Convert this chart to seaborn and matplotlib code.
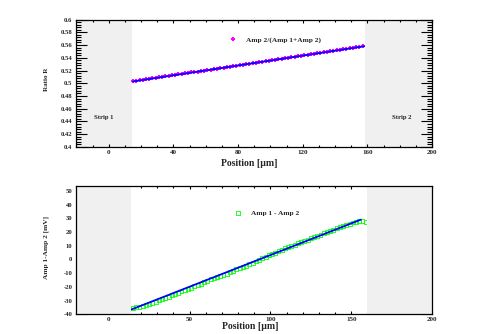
import numpy as np
import pandas as pd
import matplotlib
matplotlib.use('Agg')
import matplotlib.pyplot as plt
import seaborn as sns
from matplotlib.ticker import MultipleLocator, FormatStrFormatter

# Ratio R vs position (top panel)
pos_r = [15, 17, 19, 21, 23, 25, 27, 29, 31, 33, 35, 37, 39, 41, 43, 45, 47, 49,
         51, 53, 55, 57, 59, 61, 63, 65, 67, 69, 71, 73, 75, 77, 79, 81, 83, 85,
         87, 89, 91, 93, 95, 97, 99, 101, 103, 105, 107, 109, 111, 113, 115, 117,
         119, 121, 123, 125, 127, 129, 131, 133, 135, 137, 139, 141, 143, 145,
         147, 149, 151, 153, 155, 157]
ratio = [0.5030, 0.5038, 0.5045, 0.5053, 0.5061, 0.5069, 0.5076, 0.5084, 0.5092, 0.5099,
         0.5107, 0.5115, 0.5122, 0.5130, 0.5138, 0.5146, 0.5153, 0.5161, 0.5169, 0.5176,
         0.5184, 0.5192, 0.5199, 0.5207, 0.5215, 0.5223, 0.5230, 0.5238, 0.5246, 0.5253,
         0.5261, 0.5269, 0.5276, 0.5284, 0.5292, 0.5300, 0.5307, 0.5315, 0.5323, 0.5330,
         0.5338, 0.5346, 0.5353, 0.5361, 0.5369, 0.5377, 0.5384, 0.5392, 0.5400, 0.5407,
         0.5415, 0.5423, 0.5430, 0.5438, 0.5446, 0.5454, 0.5461, 0.5469, 0.5477, 0.5484,
         0.5492, 0.5500, 0.5507, 0.5515, 0.5523, 0.5531, 0.5538, 0.5546, 0.5554, 0.5561,
         0.5569, 0.5577]
fit_r_x = [15, 158]
fit_r_y = [0.5028, 0.5580]

# Amp 1 - Amp 2 vs position (bottom panel)
pos_d = [15, 17, 19, 21, 23, 25, 27, 29, 31, 33, 35, 37, 39, 41, 43, 45, 47, 49,
         51, 53, 55, 57, 59, 61, 63, 65, 67, 69, 71, 73, 75, 77, 79, 81, 83, 85,
         87, 89, 91, 93, 95, 97, 99, 101, 103, 105, 107, 109, 111, 113, 115, 117,
         119, 121, 123, 125, 127, 129, 131, 133, 135, 137, 139, 141, 143, 145,
         147, 149, 151, 153, 155, 157, 159, 161]
diff = [-35.3, -35.0, -34.6, -34.0, -33.4, -32.6, -31.7, -30.8, -29.9, -29.0,
        -28.0, -27.1, -26.2, -25.3, -24.3, -23.4, -22.5, -21.5, -20.6, -19.7,
        -18.8, -17.8, -16.8, -15.4, -14.5, -13.9, -13.1, -12.2, -11.2, -10.3,
        -9.3, -8.3, -7.3, -6.4, -5.5, -4.6, -3.6, -2.6, -1.5, -0.4,
        1.0, 2.0, 3.0, 4.0, 5.0, 6.1, 7.1, 8.0, 9.0, 9.9,
        10.8, 11.7, 12.6, 13.5, 14.4, 15.4, 16.3, 17.2, 18.1, 19.0,
        19.9, 20.8, 21.7, 22.6, 23.5, 24.4, 25.3, 26.1, 26.9, 27.5,
        27.8, 28.0, 27.3, 23.0]
fit_d_x = [14, 156]
fit_d_y = [-36.5, 29.0]

sns.set_style('ticks')
plt.rcParams['font.family'] = ['Liberation Serif', 'DejaVu Serif']
plt.rcParams['font.weight'] = 'bold'
plt.rcParams['axes.unicode_minus'] = False

fig = plt.figure(figsize=(4.85, 3.34), dpi=100)
ax1 = fig.add_axes([0.1577, 0.5599, 0.7330, 0.3817])
ax2 = fig.add_axes([0.1577, 0.0590, 0.7330, 0.3841])

shade = '#f0f0f0'

# top panel
ax1.axvspan(-20, 14.6, color=shade, lw=0, zorder=0)
ax1.axvspan(158.8, 200, color=shade, lw=0, zorder=0)
sns.scatterplot(x=pos_r, y=ratio, ax=ax1, marker='P', s=7, color='#ff00ff',
                linewidth=0, label='Amp 2/(Amp 1+Amp 2)', zorder=2)
sns.lineplot(x=fit_r_x, y=fit_r_y, ax=ax1, color='#0000ff', linewidth=1.3,
             legend=False, zorder=3)
ax1.text(-3.3, 0.447, 'Strip 1', fontsize=4.8, fontweight='bold', ha='center', va='center')
ax1.text(181, 0.447, 'Strip 2', fontsize=4.8, fontweight='bold', ha='center', va='center')
ax1.set_xlim(-20, 200)
ax1.set_ylim(0.4, 0.6)
ax1.xaxis.set_major_locator(MultipleLocator(40))
ax1.xaxis.set_minor_locator(MultipleLocator(10))
ax1.yaxis.set_major_locator(MultipleLocator(0.02))
ax1.yaxis.set_minor_locator(MultipleLocator(0.004))
ax1.yaxis.set_major_formatter(FormatStrFormatter('%g'))
ax1.set_xlabel('Position [µm]', fontsize=7, fontweight='bold')
ax1.set_ylabel('Ratio R', fontsize=5, fontweight='bold')
ax1.xaxis.set_label_coords(0.486, -0.098)
ax1.yaxis.set_label_coords(-0.077, 0.53)
ax1.legend(frameon=False, loc='center left', bbox_to_anchor=(0.43, 0.845),
           fontsize=5.3, handlelength=1, handletextpad=1.2, borderpad=0,
           borderaxespad=0, markerscale=1.0)

# bottom panel
ax2.axvspan(-20, 13.8, color=shade, lw=0, zorder=4)
ax2.axvspan(159.6, 200, color=shade, lw=0, zorder=4)
sns.scatterplot(x=pos_d, y=diff, ax=ax2, marker='s', s=8, facecolor='none',
                edgecolor='#00ff00', linewidth=0.6, label='Amp 1 - Amp 2', zorder=2)
sns.lineplot(x=fit_d_x, y=fit_d_y, ax=ax2, color='#0000ff', linewidth=1.3,
             legend=False, zorder=3)
ax2.set_xlim(-20, 200)
ax2.set_ylim(-40, 53.5)
ax2.xaxis.set_major_locator(MultipleLocator(50))
ax2.xaxis.set_minor_locator(MultipleLocator(10))
ax2.yaxis.set_major_locator(MultipleLocator(10))
ax2.yaxis.set_minor_locator(MultipleLocator(2))
ax2.set_xlabel('Position [µm]', fontsize=7, fontweight='bold')
ax2.set_ylabel('Amp 1-Amp 2 [mV]', fontsize=5.3, fontweight='bold')
ax2.xaxis.set_label_coords(0.489, -0.062)
ax2.yaxis.set_label_coords(-0.077, 0.52)
ax2.legend(frameon=False, loc='center left', bbox_to_anchor=(0.445, 0.79),
           fontsize=5.3, handlelength=1, handletextpad=1.2, borderpad=0,
           borderaxespad=0)

for ax in (ax1, ax2):
    for sp in ax.spines.values():
        sp.set_visible(True)
        sp.set_linewidth(0.9)
        sp.set_color('black')
        sp.set_zorder(5)
    ax.tick_params(which='both', direction='in', top=True, right=True, color='black',
                   width=0.8)
    ax.tick_params(axis='y', which='major', length=8, labelsize=4.8, pad=3)
    ax.tick_params(axis='y', which='minor', length=3.5)
    ax.tick_params(axis='x', which='major', length=2.5, labelsize=5, pad=2)
    ax.tick_params(axis='x', which='minor', length=1.3)
    for lab in ax.get_xticklabels() + ax.get_yticklabels():
        lab.set_fontweight('bold')
    ax.set_facecolor('white')

fig.savefig('out.png', dpi=100, facecolor='white')
